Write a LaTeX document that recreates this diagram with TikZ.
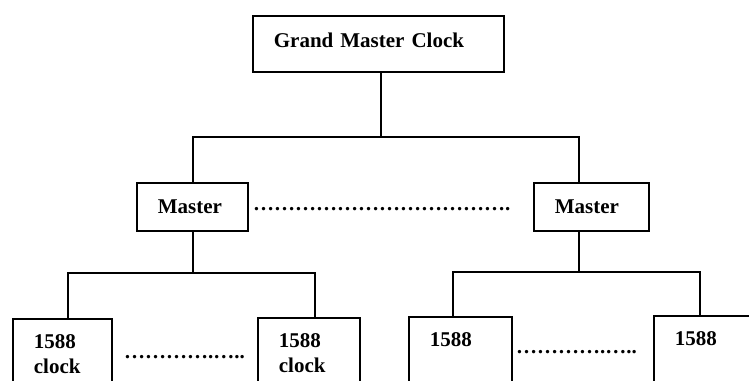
\documentclass[tikz,border=0pt]{standalone}
\usepackage{fontspec}
\setmainfont{Liberation Serif}
\usetikzlibrary{positioning}

\begin{document}
\begin{tikzpicture}[x=1pt, y=1pt,
    every node/.style={font=\fontsize{21}{25}\selectfont\bfseries},
    box/.style={draw, line width=1.8, anchor=north west, inner xsep=21, inner ysep=3, align=left},
    leaf/.style={box, inner ysep=16},
    dotrow/.style={anchor=base west, inner sep=0},
    wire/.style={line width=1.8}]
    \useasboundingbox (0,0) rectangle (749,-380);
    \clip (0,0) rectangle (749,-380);

    % Grand master
    \node[box, text width=209, minimum height=56, text depth=8] (gm) at (252,-15) {Grand Master Clock};

    % Masters
    \node[box, text width=69, minimum height=48] (m1) at (136,-182) {Master};
    \node[box, text width=73, minimum height=48] (m2) at (533,-182) {Master};
    \node[dotrow] (dotsM) at (253,-210) {……………………………….};

    % 1588 clocks
    \node[leaf] (c1) at (12,-318) {\parbox[t][80pt][t]{57pt}{1588\\clock}};
    \node[leaf] (c2) at (257,-317) {\parbox[t][80pt][t]{60pt}{1588\\clock}};
    \node[leaf] (c3) at (408,-316) {\parbox[t][80pt][t]{61pt}{1588}};
    \node[leaf] (c4) at (653,-315) {\parbox[t][80pt][t]{70pt}{1588}};
    \node[dotrow] (dotsL) at (124,-358) {………….…..};
    \node[dotrow] (dotsR) at (516,-353) {………….…..};

    % Wires
    \coordinate (j0) at (381,-137);
    \coordinate (j1) at (193,-273);
    \coordinate (j2) at (579,-272);
    \draw[wire] (gm.south -| j0) -- (j0);
    \draw[wire] (m1.north -| j1) |- (j0) -| (m2.north -| j2);
    \draw[wire] (m1.south -| j1) -- (j1);
    \draw[wire] (68,0 |- c1.north) |- (j1) -| (315,0 |- c2.north);
    \draw[wire] (m2.south -| j2) -- (j2);
    \draw[wire] (453,0 |- c3.north) |- (j2) -| (700,0 |- c4.north);
\end{tikzpicture}
\end{document}
